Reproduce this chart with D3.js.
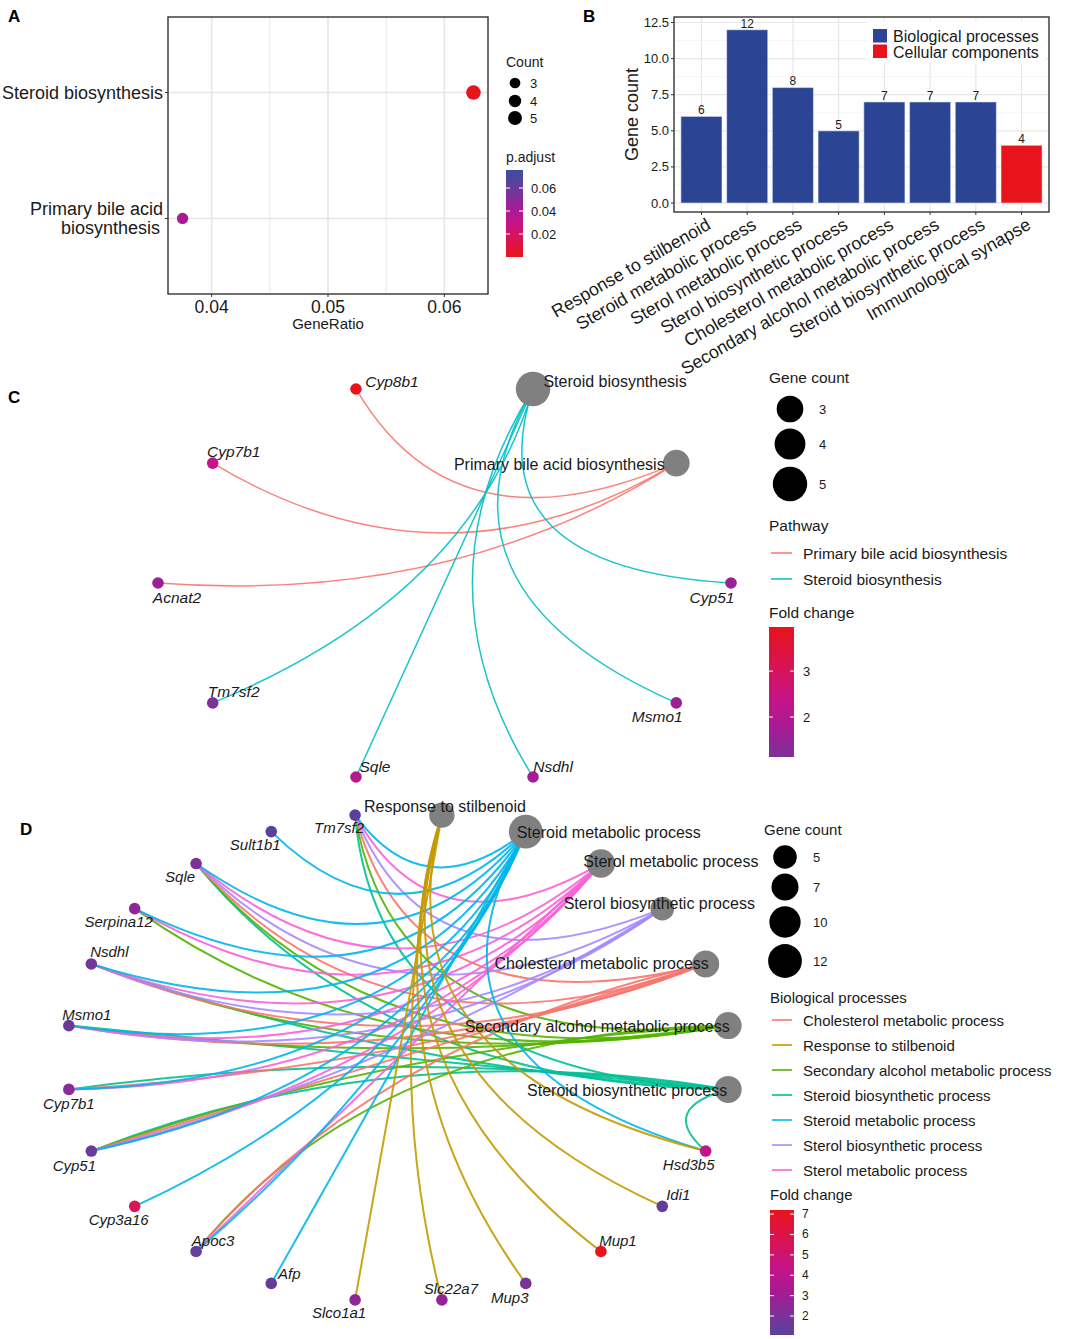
<!DOCTYPE html>
<html lang="en">
<head>
<meta charset="utf-8">
<title>KEGG / GO enrichment figure</title>
<script src="https://cdnjs.cloudflare.com/ajax/libs/d3/7.8.5/d3.min.js"></script>
<style>
  body { margin: 0; background: #fff; }
  svg { font-family: "Liberation Sans", Arial, sans-serif; }
</style>
</head>
<body>
<script>
var w = 1074, h = 1339;

// ---------- data: A (KEGG dot plot)
var keggTerms = ["Steroid biosynthesis", "Primary bile acid biosynthesis"];
var keggTermLines = [["Steroid biosynthesis"], ["Primary bile acid", "biosynthesis"]];
var keggGeneRatio = [0.0625, 0.0375];
var keggCount = [5, 3];
var keggPadj = [0.0004, 0.042];
var geneRatioTicks = [0.04, 0.05, 0.06];
var padjTicks = [0.02, 0.04, 0.06];
var padjLimits = [0, 0.0757];
var countLegendA = [3, 4, 5];

// ---------- data: B (GO bar chart)
var goTerms = ["Response to stilbenoid", "Steroid metabolic process", "Sterol metabolic process",
  "Sterol biosynthetic process", "Cholesterol metabolic process", "Secondary alcohol metabolic process",
  "Steroid biosynthetic process", "Immunological synapse"];
var goCounts = [6, 12, 8, 5, 7, 7, 7, 4];
var goGroup = ["Biological processes", "Biological processes", "Biological processes", "Biological processes",
  "Biological processes", "Biological processes", "Biological processes", "Cellular components"];
var goGroups = ["Biological processes", "Cellular components"];
var countTicks = [0, 2.5, 5, 7.5, 10, 12.5];

// ---------- data: C (KEGG gene-concept network)
var cPathways = ["Primary bile acid biosynthesis", "Steroid biosynthesis"];
var cPathwayGenes = [["Cyp8b1", "Cyp7b1", "Acnat2"], ["Tm7sf2", "Sqle", "Nsdhl", "Msmo1", "Cyp51"]];
var cGenes = ["Cyp8b1", "Cyp7b1", "Acnat2", "Tm7sf2", "Sqle", "Nsdhl", "Msmo1", "Cyp51"];
var cFoldChange = [3.96, 2.4, 1.6, 1.13, 2.1, 1.7, 1.6, 1.55];
var cNodeOrder = ["Primary bile acid biosynthesis", "Steroid biosynthesis", "Cyp8b1", "Cyp7b1", "Acnat2",
  "Tm7sf2", "Sqle", "Nsdhl", "Msmo1", "Cyp51"];
var cCountLegend = [3, 4, 5];
var cFoldTicks = [2, 3];

// ---------- data: D (GO gene-concept network)
var dTerms = ["Steroid biosynthetic process", "Secondary alcohol metabolic process", "Cholesterol metabolic process",
  "Sterol biosynthetic process", "Sterol metabolic process", "Steroid metabolic process", "Response to stilbenoid"];
var dTermGenes = [
  ["Tm7sf2", "Sqle", "Nsdhl", "Msmo1", "Cyp7b1", "Cyp51", "Hsd3b5"],
  ["Tm7sf2", "Sqle", "Serpina12", "Nsdhl", "Msmo1", "Cyp51", "Apoc3"],
  ["Tm7sf2", "Sqle", "Nsdhl", "Msmo1", "Cyp7b1", "Cyp51", "Apoc3"],
  ["Tm7sf2", "Sqle", "Nsdhl", "Msmo1", "Cyp51"],
  ["Tm7sf2", "Sqle", "Serpina12", "Nsdhl", "Msmo1", "Cyp7b1", "Cyp51", "Apoc3"],
  ["Tm7sf2", "Sult1b1", "Sqle", "Serpina12", "Nsdhl", "Msmo1", "Cyp7b1", "Cyp51", "Cyp3a16", "Apoc3", "Afp", "Hsd3b5"],
  ["Slco1a1", "Slc22a7", "Mup3", "Mup1", "Idi1", "Hsd3b5"]
];
var dGenes = ["Tm7sf2", "Sult1b1", "Sqle", "Serpina12", "Nsdhl", "Msmo1", "Cyp7b1", "Cyp51", "Cyp3a16",
  "Apoc3", "Afp", "Slco1a1", "Slc22a7", "Mup3", "Mup1", "Idi1", "Hsd3b5"];
var dFoldChange = [1.13, 1.07, 2.1, 2.5, 1.7, 1.6, 2.4, 1.55, 5.6, 1.4, 1.5, 2.6, 2.7, 1.9, 7.2, 1.3, 4.3];
var dCountLegend = [5, 7, 10, 12];
var dFoldTicks = [2, 3, 4, 5, 6, 7];

// ---------- layout (not data)
var cLabelNudge = {
  "Cyp8b1": [36, -7], "Steroid biosynthesis": [82, -7], "Primary bile acid biosynthesis": [-117, 1],
  "Cyp7b1": [21, -12], "Acnat2": [19, 14], "Cyp51": [-19, 14], "Tm7sf2": [21, -11],
  "Msmo1": [-19, 14], "Sqle": [19, -11], "Nsdhl": [20, -11]
};
var dLabelNudge = {
  "Response to stilbenoid": [3, -9], "Steroid metabolic process": [83, 1], "Sterol metabolic process": [70, -2],
  "Sterol biosynthetic process": [-3, -5], "Cholesterol metabolic process": [-104, 0],
  "Secondary alcohol metabolic process": [-131, 1], "Steroid biosynthetic process": [-101, 1],
  "Tm7sf2": [-16, 12], "Sult1b1": [-16, 13], "Sqle": [-16, 13], "Serpina12": [-16, 13], "Nsdhl": [18, -12],
  "Msmo1": [18, -11], "Cyp7b1": [0, 14], "Cyp51": [-17, 14], "Cyp3a16": [-16, 13], "Apoc3": [17, -11],
  "Afp": [18, -10], "Slco1a1": [-16, 13], "Slc22a7": [9, -11], "Mup3": [-16, 14], "Mup1": [17, -11],
  "Idi1": [16, -12], "Hsd3b5": [-17, 13]
};

// blue -> purple -> magenta -> red, as in the figure's gradients
var gradStops = [0, 0.2, 0.45, 0.6, 0.8, 1];
var gradCols = ["#3b4ea0", "#663c9a", "#a81a94", "#c4148a", "#da1350", "#e8141c"];
var textCol = "#1a1a1a";

// colour scale: t = 0 is blue, t = 1 is red, spread over a value domain
function gradScale(lo, hi) {
  return d3.scaleLinear()
    .domain(gradStops.map(function(t) { return lo + t * (hi - lo); }))
    .range(gradCols).clamp(true);
}

var svg = d3.select("body").append("svg")
  .attr("width", w).attr("height", h);
var defs = svg.append("defs");

function panelLetter(t, x, y) {
  svg.append("text").text(t).attr("x", x).attr("y", y)
    .attr("font-size", "17px").attr("font-weight", "bold")
    .attr("dominant-baseline", "central").attr("fill", "#000");
}

// vertical colour bar filled from a colour scale
function colorBar(id, x, y0, y1, bw, domain, colorFn, ticks, labelX, fontSize) {
  var grad = defs.append("linearGradient").attr("id", id)
    .attr("x1", 0).attr("y1", 1).attr("x2", 0).attr("y2", 0);
  d3.range(0, 1.0001, 0.05).forEach(function(t) {
    grad.append("stop").attr("offset", t)
      .attr("stop-color", colorFn(domain[0] + t * (domain[1] - domain[0])));
  });
  var cy = d3.scaleLinear().domain(domain).range([y1, y0]);
  svg.append("rect").attr("x", x).attr("y", y0).attr("width", bw).attr("height", y1 - y0)
    .attr("fill", "url(#" + id + ")");
  ticks.forEach(function(t) {
    [[x, x + 4], [x + bw - 4, x + bw]].forEach(function(s) {
      svg.append("line").attr("x1", s[0]).attr("x2", s[1])
        .attr("y1", cy(t)).attr("y2", cy(t))
        .attr("stroke", "#fff").attr("stroke-width", 1);
    });
    svg.append("text").text(t).attr("x", labelX).attr("y", cy(t))
      .attr("dominant-baseline", "central").attr("font-size", fontSize).attr("fill", textCol);
  });
}

// ======================= A
(function() {
  var left = 168, right = 488, top = 17, bottom = 294;
  var x = d3.scaleLinear().domain([0.03625, 0.06375]).range([left, right]);
  var y = d3.scalePoint().domain(keggTerms).range([top, bottom]).padding(0.6);
  // red at low p.adjust, blue at the top of the bar
  var col = gradScale(padjLimits[1], padjLimits[0]);
  var size = d3.scaleSqrt().domain([0, 5]).range([0, 7.3]);

  var minor = d3.pairs(geneRatioTicks).map(function(p) { return (p[0] + p[1]) / 2; });
  svg.selectAll("line.aminor").data(minor).enter().append("line")
    .attr("x1", function(d) { return x(d); }).attr("x2", function(d) { return x(d); })
    .attr("y1", top).attr("y2", bottom).attr("stroke", "#ececec").attr("stroke-width", 1.2);
  svg.selectAll("line.amajor").data(geneRatioTicks).enter().append("line")
    .attr("x1", function(d) { return x(d); }).attr("x2", function(d) { return x(d); })
    .attr("y1", top).attr("y2", bottom).attr("stroke", "#e6e6e6").attr("stroke-width", 1.6);
  svg.selectAll("line.ahor").data(keggTerms).enter().append("line")
    .attr("x1", left).attr("x2", right)
    .attr("y1", function(d) { return y(d); }).attr("y2", function(d) { return y(d); })
    .attr("stroke", "#e6e6e6").attr("stroke-width", 1.6);

  svg.selectAll("circle.adot").data(keggTerms).enter().append("circle")
    .attr("cx", function(d, i) { return x(keggGeneRatio[i]); })
    .attr("cy", function(d) { return y(d); })
    .attr("r", function(d, i) { return size(keggCount[i]); })
    .attr("fill", function(d, i) { return col(keggPadj[i]); });

  svg.append("rect").attr("x", left).attr("y", top).attr("width", right - left).attr("height", bottom - top)
    .attr("fill", "none").attr("stroke", "#333").attr("stroke-width", 1.4);

  // y axis labels and ticks
  keggTerms.forEach(function(t, i) {
    svg.append("line").attr("x1", left - 3).attr("x2", left).attr("y1", y(t)).attr("y2", y(t))
      .attr("stroke", "#333");
    var lines = keggTermLines[i];
    lines.forEach(function(l, j) {
      svg.append("text").text(l)
        .attr("x", j === 0 ? left - 5 : left - 8)
        .attr("y", y(t) + (j - (lines.length - 1) / 2) * 19.5)
        .attr("text-anchor", "end").attr("dominant-baseline", "central")
        .attr("font-size", "18px").attr("fill", textCol);
    });
  });
  geneRatioTicks.forEach(function(t) {
    svg.append("line").attr("x1", x(t)).attr("x2", x(t)).attr("y1", bottom).attr("y2", bottom + 3)
      .attr("stroke", "#333");
    svg.append("text").text(t.toFixed(2)).attr("x", x(t)).attr("y", 307)
      .attr("text-anchor", "middle").attr("dominant-baseline", "central")
      .attr("font-size", "17.5px").attr("fill", textCol);
  });
  svg.append("text").text("GeneRatio").attr("x", (left + right) / 2).attr("y", 323)
    .attr("text-anchor", "middle").attr("dominant-baseline", "central")
    .attr("font-size", "15px").attr("fill", textCol);

  // legends
  svg.append("text").text("Count").attr("x", 506).attr("y", 62)
    .attr("dominant-baseline", "central").attr("font-size", "14px").attr("fill", textCol);
  var ly = [83, 101, 118];
  countLegendA.forEach(function(c, i) {
    svg.append("circle").attr("cx", 515).attr("cy", ly[i]).attr("r", size(c) * 0.95).attr("fill", "#000");
    svg.append("text").text(c).attr("x", 530).attr("y", ly[i])
      .attr("dominant-baseline", "central").attr("font-size", "13px").attr("fill", textCol);
  });
  svg.append("text").text("p.adjust").attr("x", 506).attr("y", 157)
    .attr("dominant-baseline", "central").attr("font-size", "14px").attr("fill", textCol);
  colorBar("gradA", 506, 170, 257, 17, padjLimits, col, padjTicks, 531, "13px");
  panelLetter("A", 8, 16);
})();

// ======================= B
(function() {
  var left = 674, right = 1049, top = 17, bottom = 212;
  var x = d3.scaleBand().domain(goTerms).range([left, right]).paddingInner(0.1).paddingOuter(0.15);
  var y = d3.scaleLinear().domain([-0.62, 12.88]).range([bottom, top]);
  var fill = d3.scaleOrdinal().domain(goGroups).range(["#2b4494", "#e8141c"]);

  var minor = d3.pairs(countTicks).map(function(p) { return (p[0] + p[1]) / 2; });
  svg.selectAll("line.bminor").data(minor).enter().append("line")
    .attr("x1", left).attr("x2", right)
    .attr("y1", function(d) { return y(d); }).attr("y2", function(d) { return y(d); })
    .attr("stroke", "#f2f2f2").attr("stroke-width", 0.8);
  svg.selectAll("line.bmajor").data(countTicks).enter().append("line")
    .attr("x1", left).attr("x2", right)
    .attr("y1", function(d) { return y(d); }).attr("y2", function(d) { return y(d); })
    .attr("stroke", "#e8e8e8").attr("stroke-width", 1.2);
  svg.selectAll("line.bvert").data(goTerms).enter().append("line")
    .attr("x1", function(d) { return x(d) + x.bandwidth() / 2; })
    .attr("x2", function(d) { return x(d) + x.bandwidth() / 2; })
    .attr("y1", top).attr("y2", bottom)
    .attr("stroke", "#e8e8e8").attr("stroke-width", 1.2);

  svg.selectAll("rect.bar").data(goTerms).enter().append("rect")
    .attr("x", function(d) { return x(d); })
    .attr("width", x.bandwidth())
    .attr("y", function(d, i) { return y(goCounts[i]); })
    .attr("height", function(d, i) { return y(0) - y(goCounts[i]); })
    .attr("fill", function(d, i) { return fill(goGroup[i]); })
    .attr("stroke", "#ffffff").attr("stroke-opacity", 0.45).attr("stroke-width", 1.2);

  svg.selectAll("text.barlab").data(goTerms).enter().append("text")
    .text(function(d, i) { return goCounts[i]; })
    .attr("x", function(d) { return x(d) + x.bandwidth() / 2; })
    .attr("y", function(d, i) { return y(goCounts[i]) - 6; })
    .attr("text-anchor", "middle").attr("dominant-baseline", "central")
    .attr("font-size", "12px").attr("fill", textCol);

  // legend inside panel
  svg.append("rect").attr("x", 867).attr("y", 21).attr("width", 179).attr("height", 42).attr("fill", "#fff");
  goGroups.forEach(function(g, i) {
    svg.append("rect").attr("x", 873).attr("y", 29 + i * 15.5).attr("width", 14).attr("height", 13.5)
      .attr("fill", fill(g));
    svg.append("text").text(g).attr("x", 893).attr("y", 36 + i * 16)
      .attr("dominant-baseline", "central").attr("font-size", "16px").attr("fill", textCol);
  });

  svg.append("rect").attr("x", left).attr("y", top).attr("width", right - left).attr("height", bottom - top)
    .attr("fill", "none").attr("stroke", "#333").attr("stroke-width", 1.4);

  countTicks.forEach(function(t) {
    svg.append("line").attr("x1", left - 3).attr("x2", left).attr("y1", y(t)).attr("y2", y(t))
      .attr("stroke", "#333");
    svg.append("text").text(t.toFixed(1)).attr("x", left - 5).attr("y", y(t))
      .attr("text-anchor", "end").attr("dominant-baseline", "central")
      .attr("font-size", "13px").attr("fill", textCol);
  });
  goTerms.forEach(function(t) {
    var cx = x(t) + x.bandwidth() / 2;
    svg.append("line").attr("x1", cx).attr("x2", cx).attr("y1", bottom).attr("y2", bottom + 3)
      .attr("stroke", "#333");
    svg.append("text").text(t)
      .attr("transform", "translate(" + (cx + 4) + "," + (bottom + 5) + ") rotate(-30)")
      .attr("text-anchor", "end").attr("dominant-baseline", "hanging")
      .attr("font-size", "17.8px").attr("fill", textCol);
  });
  svg.append("text").text("Gene count")
    .attr("transform", "translate(632," + ((top + bottom) / 2) + ") rotate(-90)")
    .attr("text-anchor", "middle").attr("dominant-baseline", "central")
    .attr("font-size", "18px").attr("fill", textCol);
  panelLetter("B", 583, 16);
})();

// ======================= network helper (C and D)
function drawNet(cfg) {
  var n = cfg.order.length;
  var pos = {};
  cfg.order.forEach(function(name, i) {
    var a = (cfg.startDeg + i * 360 / n) * Math.PI / 180;
    pos[name] = [Math.cos(a), Math.sin(a)];
  });
  var edgeG = svg.append("g");
  cfg.terms.forEach(function(t, ti) {
    cfg.termGenes[ti].forEach(function(gene) {
      var p0 = pos[t], p1 = pos[gene];
      var chord = Math.sqrt(Math.pow(p1[0] - p0[0], 2) + Math.pow(p1[1] - p0[1], 2));
      var k = 1 - 0.72 * chord;
      var qx = (p0[0] + p1[0]) / 2 * k, qy = (p0[1] + p1[1]) / 2 * k;
      var p = d3.path();
      p.moveTo(cfg.x(p0[0]), cfg.y(p0[1]));
      p.quadraticCurveTo(cfg.x(qx), cfg.y(qy), cfg.x(p1[0]), cfg.y(p1[1]));
      edgeG.append("path").attr("d", p.toString())
        .attr("fill", "none").attr("stroke", cfg.edgeColor(t))
        .attr("stroke-opacity", 0.9).attr("stroke-width", cfg.edgeWidth);
    });
  });
  var nodeG = svg.append("g");
  cfg.terms.forEach(function(t, ti) {
    nodeG.append("circle").attr("cx", cfg.x(pos[t][0])).attr("cy", cfg.y(pos[t][1]))
      .attr("r", cfg.size(cfg.termGenes[ti].length)).attr("fill", "#808080");
  });
  cfg.genes.forEach(function(g, gi) {
    nodeG.append("circle").attr("cx", cfg.x(pos[g][0])).attr("cy", cfg.y(pos[g][1]))
      .attr("r", 5.8).attr("fill", cfg.foldColor(cfg.fold[gi]));
  });
  var labG = svg.append("g");
  cfg.order.forEach(function(name) {
    var isGene = cfg.genes.indexOf(name) >= 0;
    var nd = cfg.nudge[name];
    labG.append("text").text(name)
      .attr("x", cfg.x(pos[name][0]) + nd[0]).attr("y", cfg.y(pos[name][1]) + nd[1])
      .attr("text-anchor", "middle").attr("dominant-baseline", "central")
      .attr("font-style", isGene ? "italic" : "normal")
      .attr("font-size", isGene ? cfg.geneFont : cfg.termFont)
      .attr("fill", textCol);
  });
}

function legendText(t, x, y, size) {
  svg.append("text").text(t).attr("x", x).attr("y", y)
    .attr("dominant-baseline", "central").attr("font-size", size).attr("fill", textCol);
}

// ======================= C
(function() {
  var x = d3.scaleLinear().domain([-1, 1]).range([158, 731]);
  var y = d3.scaleLinear().domain([-1, 1]).range([787, 379]);
  var size = d3.scaleSqrt().domain([0, 5]).range([0, 17.2]);
  var fmax = d3.max(cFoldChange), fmin = d3.min(cFoldChange);
  var foldColor = gradScale(0, fmax);
  var edgeColor = d3.scaleOrdinal().domain(cPathways.slice().sort(d3.ascending)).range(["#F8766D", "#00BFC4"]);

  drawNet({
    order: cNodeOrder, startDeg: 36, x: x, y: y,
    terms: cPathways, termGenes: cPathwayGenes, genes: cGenes, fold: cFoldChange,
    size: size, foldColor: foldColor, edgeColor: edgeColor, edgeWidth: 1.5,
    nudge: cLabelNudge, geneFont: "15.5px", termFont: "16px"
  });

  legendText("Gene count", 769, 377, "15.5px");
  var ly = [409, 444, 484];
  cCountLegend.forEach(function(c, i) {
    svg.append("circle").attr("cx", 790).attr("cy", ly[i]).attr("r", size(c)).attr("fill", "#000");
    legendText(c, 819, ly[i], "13px");
  });
  legendText("Pathway", 769, 525, "15.5px");
  edgeColor.domain().forEach(function(p, i) {
    svg.append("line").attr("x1", 771).attr("x2", 792).attr("y1", 553 + i * 26).attr("y2", 553 + i * 26)
      .attr("stroke", edgeColor(p)).attr("stroke-width", 1.5);
    legendText(p, 803, 553 + i * 26, "15.5px");
  });
  legendText("Fold change", 769, 612, "15.5px");
  colorBar("gradC", 769, 627, 757, 25, [fmin, fmax], foldColor, cFoldTicks, 803, "13px");
  panelLetter("C", 8, 397);
})();

// ======================= D
(function() {
  var x = d3.scaleLinear().domain([-1, 1]).range([66, 731]);
  var y = d3.scaleLinear().domain([-1, 1]).range([1302, 813]);
  var size = d3.scalePow().exponent(0.5).domain([5, 12]).range([11.8, 16.9]);
  var fmax = d3.max(dFoldChange), fmin = d3.min(dFoldChange);
  var foldColor = gradScale(0, fmax);
  var legendTerms = dTerms.slice().sort(d3.ascending);
  var edgeColor = d3.scaleOrdinal().domain(legendTerms)
    .range(["#F8766D", "#C49A00", "#53B400", "#00C094", "#00B6EB", "#A58AFF", "#FB61D7"]);
  var order = dTerms.concat(dGenes);

  drawNet({
    order: order, startDeg: -7.5, x: x, y: y,
    terms: dTerms, termGenes: dTermGenes, genes: dGenes, fold: dFoldChange,
    size: size, foldColor: foldColor, edgeColor: edgeColor, edgeWidth: 2,
    nudge: dLabelNudge, geneFont: "15px", termFont: "16px"
  });

  legendText("Gene count", 764, 829, "15px");
  var ly = [857, 887, 922, 961];
  dCountLegend.forEach(function(c, i) {
    svg.append("circle").attr("cx", 785).attr("cy", ly[i]).attr("r", size(c)).attr("fill", "#000");
    legendText(c, 813, ly[i], "13px");
  });
  legendText("Biological processes", 770, 997, "15px");
  legendTerms.forEach(function(t, i) {
    var yy = 1020 + i * 25;
    svg.append("line").attr("x1", 772).attr("x2", 792).attr("y1", yy).attr("y2", yy)
      .attr("stroke", edgeColor(t)).attr("stroke-width", 1.6);
    legendText(t, 803, yy, "15px");
  });
  legendText("Fold change", 770, 1194, "15px");
  colorBar("gradD", 770, 1210, 1335, 24, [fmin, fmax], foldColor, dFoldTicks, 802, "12px");
  panelLetter("D", 20, 829);
})();
</script>
</body>
</html>
